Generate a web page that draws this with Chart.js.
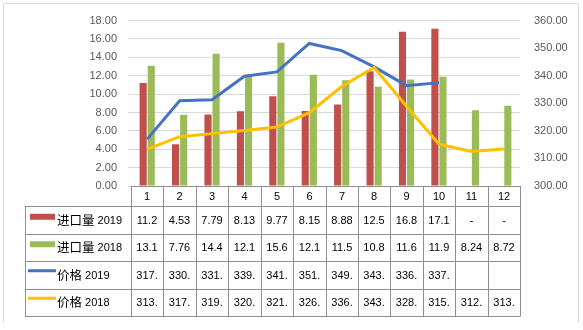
<!DOCTYPE html>
<html>
<head>
<meta charset="utf-8">
<script src="https://cdn.jsdelivr.net/npm/chart.js@4"></script>
<style>
  html, body { margin: 0; padding: 0; background: #fff; }
  canvas { display: block; }
</style>
</head>
<body>
<canvas id="trade" width="583" height="330"></canvas>
<script>
const months = ['1', '2', '3', '4', '5', '6', '7', '8', '9', '10', '11', '12'];
const imports2019 = [11.2, 4.53, 7.79, 8.13, 9.77, 8.15, 8.88, 12.5, 16.8, 17.1, null, null];
const imports2018 = [13.1, 7.76, 14.4, 12.1, 15.6, 12.1, 11.5, 10.8, 11.6, 11.9, 8.24, 8.72];
const price2019 = [317.0, 330.9, 331.3, 339.8, 341.4, 351.7, 349.1, 343.2, 336.4, 337.5, null, null];
const price2018 = [313.4, 317.9, 319.0, 320.1, 321.4, 326.6, 336.1, 343.0, 328.9, 315.2, 312.5, 313.4];

const FONT = "'Liberation Sans', 'Noto Sans CJK SC', sans-serif";
const CJK = "'Noto Sans CJK SC', sans-serif";

// excel-ish cell text: value cut to 4 chars
function cellText(v, blank) {
  if (v === null || v === undefined) return blank;
  return v.toFixed(2).slice(0, 4);
}

// data table under the plot, columns follow the x scale
const dataTable = {
  id: 'dataTable',
  afterDraw(chart) {
    const ctx = chart.ctx;
    const area = chart.chartArea;
    const x = chart.scales.x;
    const n = months.length;
    const edges = [area.left];
    for (let i = 1; i < n; i++) {
      edges.push(Math.round((x.getPixelForValue(i - 1) + x.getPixelForValue(i)) / 2));
    }
    edges.push(area.right);

    const tableLeft = 25;
    const headTop = area.bottom;
    const headH = 20;
    const rowH = 27.5;
    const rows = chart.data.datasets.length;
    const bottom = headTop + headH + rows * rowH;

    ctx.save();
    ctx.strokeStyle = '#8e8e8e';
    ctx.lineWidth = 1;
    ctx.beginPath();
    // header row
    ctx.moveTo(area.left, headTop + 0.5);
    ctx.lineTo(area.right, headTop + 0.5);
    // body rows
    for (let r = 0; r <= rows; r++) {
      const y = Math.round(headTop + headH + r * rowH) + 0.5;
      ctx.moveTo(tableLeft, y);
      ctx.lineTo(area.right, y);
    }
    ctx.moveTo(tableLeft + 0.5, headTop + headH);
    ctx.lineTo(tableLeft + 0.5, Math.round(bottom) + 0.5);
    edges.forEach(e => {
      ctx.moveTo(Math.round(e) + 0.5, headTop);
      ctx.lineTo(Math.round(e) + 0.5, Math.round(bottom) + 0.5);
    });
    ctx.stroke();

    ctx.textBaseline = 'middle';
    ctx.textAlign = 'center';
    ctx.fillStyle = '#000';
    ctx.font = '11px ' + FONT;
    months.forEach((m, i) => {
      ctx.fillText(m, (edges[i] + edges[i + 1]) / 2, headTop + headH / 2 + 1);
    });

    chart.data.datasets.forEach((ds, r) => {
      const cy = headTop + headH + r * rowH + rowH / 2 + 1;
      // legend key
      if (ds.type === 'line') {
        ctx.strokeStyle = ds.borderColor;
        ctx.lineWidth = 3;
        ctx.beginPath();
        ctx.moveTo(28, cy - 5);
        ctx.lineTo(56, cy - 5);
        ctx.stroke();
      } else {
        ctx.fillStyle = ds.backgroundColor;
        ctx.fillRect(30, cy - 7, 25, 6);
      }
      // series name: chinese part then year
      const parts = ds.label.split(' ');
      ctx.textAlign = 'left';
      ctx.fillStyle = '#000';
      ctx.font = '12.5px ' + CJK;
      ctx.fillText(parts[0], 57, cy - 1);
      const w = ctx.measureText(parts[0]).width;
      ctx.font = '11px ' + FONT;
      ctx.fillText(' ' + parts[1], 57 + w, cy);

      ctx.textAlign = 'center';
      ds.data.forEach((v, i) => {
        ctx.fillText(cellText(v, ds.type === 'line' ? '' : '-'), (edges[i] + edges[i + 1]) / 2, cy);
      });
    });

    // chart frame (open at the bottom)
    ctx.strokeStyle = '#d9d9d9';
    ctx.lineWidth = 1;
    ctx.beginPath();
    ctx.moveTo(3.5, 322);
    ctx.lineTo(3.5, 3.5);
    ctx.lineTo(578.5, 3.5);
    ctx.lineTo(578.5, 322);
    ctx.stroke();
    ctx.restore();
  }
};

new Chart(document.getElementById('trade'), {
  data: {
    labels: months,
    datasets: [
      {
        type: 'bar',
        label: '进口量 2019',
        data: imports2019,
        backgroundColor: '#c0504d',
        yAxisID: 'y',
        order: 2
      },
      {
        type: 'bar',
        label: '进口量 2018',
        data: imports2018,
        backgroundColor: '#9bbb59',
        yAxisID: 'y',
        order: 2
      },
      {
        type: 'line',
        label: '价格 2019',
        data: price2019,
        borderColor: '#4472c4',
        borderWidth: 3,
        pointRadius: 0,
        yAxisID: 'y1',
        order: 1
      },
      {
        type: 'line',
        label: '价格 2018',
        data: price2018,
        borderColor: '#ffc000',
        borderWidth: 3,
        pointRadius: 0,
        yAxisID: 'y1',
        order: 0
      }
    ]
  },
  options: {
    responsive: false,
    devicePixelRatio: 1,
    animation: false,
    categoryPercentage: 0.5,
    barPercentage: 0.88,
    layout: { padding: { left: 0, right: 0, top: 17, bottom: 144 } },
    plugins: {
      legend: { display: false },
      tooltip: { enabled: false }
    },
    scales: {
      x: {
        display: false,
        offset: true
      },
      y: {
        position: 'left',
        min: 0,
        max: 18,
        afterFit(scale) { scale.width = 131; },
        border: { display: false },
        grid: { color: '#d9d9d9', tickLength: 3, tickColor: '#d9d9d9' },
        ticks: {
          stepSize: 2,
          padding: 11,
          color: '#595959',
          font: { family: FONT, size: 11 },
          callback: v => v.toFixed(2)
        }
      },
      y1: {
        position: 'right',
        min: 300,
        max: 360,
        afterFit(scale) { scale.width = 63; },
        border: { display: false },
        grid: { drawOnChartArea: false, drawTicks: false },
        ticks: {
          stepSize: 10,
          padding: 14,
          color: '#595959',
          font: { family: FONT, size: 11 },
          callback: v => v.toFixed(2)
        }
      }
    }
  },
  plugins: [dataTable]
});
</script>
</body>
</html>
